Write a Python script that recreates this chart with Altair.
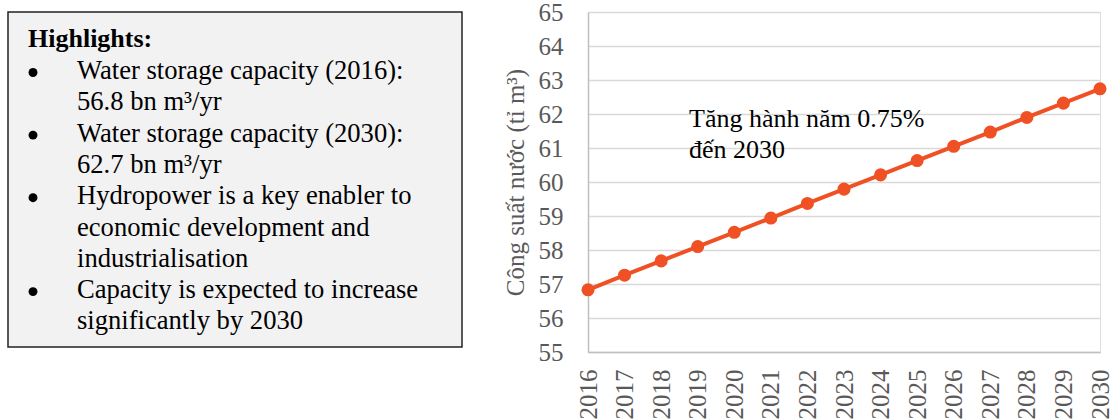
import altair as alt
import pandas as pd

# Projected water storage capacity, billion m3
years = [2016, 2017, 2018, 2019, 2020, 2021, 2022, 2023,
         2024, 2025, 2026, 2027, 2028, 2029, 2030]
capacity = [56.83, 57.26, 57.68, 58.10, 58.52, 58.94, 59.37, 59.79,
            60.21, 60.63, 61.05, 61.47, 61.90, 62.32, 62.74]
y_ticks = [55, 56, 57, 58, 59, 60, 61, 62, 63, 64, 65]

y_title = "Công suất nước (tỉ m³)"
note_lines = ["Tăng hành năm 0.75%", "đến 2030"]

box_heading = "Highlights:"
box_lines = [
    "Water storage capacity (2016):",
    "56.8 bn m³/yr",
    "Water storage capacity (2030):",
    "62.7 bn m³/yr",
    "Hydropower is a key enabler to",
    "economic development and",
    "industrialisation",
    "Capacity is expected to increase",
    "significantly by 2030",
]
# a bullet starts each item; continuation lines have none
bullet_rows = [True, False, True, False, True, False, False, True, False]

FONT = "Liberation Serif"
LINE_COLOR = "#ef5124"
LINE_H = 31.3
BODY_Y = 67

df = pd.DataFrame({"year": years, "capacity": capacity})

x_enc = alt.X(
    "year:Q",
    scale=alt.Scale(domain=[2016, 2030], nice=False, zero=False),
    axis=alt.Axis(values=years, format="d", labelAngle=-90, labelPadding=17,
                  labelOverlap=False, ticks=False, grid=False, title=None),
)
y_enc = alt.Y(
    "capacity:Q",
    scale=alt.Scale(domain=[55, 65], nice=False, zero=False),
    axis=alt.Axis(values=y_ticks, ticks=False, labelPadding=25,
                  labelOverlap=False, title=y_title, titlePadding=10),
)

base = alt.Chart(df).encode(x=x_enc, y=y_enc)
line = base.mark_line(color=LINE_COLOR, strokeWidth=4)
dots = base.mark_circle(color=LINE_COLOR, size=170, opacity=1)

note = alt.Chart(pd.DataFrame({"t": ["\n".join(note_lines)]})).mark_text(
    align="left", baseline="alphabetic", font=FONT, fontSize=26,
    color="black", lineBreak="\n", lineHeight=31,
).encode(x=alt.value(101), y=alt.value(115), text="t:N")

# Highlights panel to the left of the plot area
box = alt.Chart(pd.DataFrame({"k": [0]})).mark_rect(
    fill="#f2f2f2", stroke="#222222", strokeWidth=1.5,
).encode(x=alt.value(-580), x2=alt.value(-126), y=alt.value(0), y2=alt.value(335))

heading = alt.Chart(pd.DataFrame({"t": [box_heading]})).mark_text(
    align="left", baseline="alphabetic", font=FONT, fontSize=26,
    fontWeight="bold", color="black",
).encode(x=alt.value(-560), y=alt.value(35), text="t:N")

body = alt.Chart(pd.DataFrame({"t": ["\n".join(box_lines)]})).mark_text(
    align="left", baseline="alphabetic", font=FONT, fontSize=26.6,
    color="black", lineBreak="\n", lineHeight=LINE_H,
).encode(x=alt.value(-511), y=alt.value(BODY_Y), text="t:N")

bullet_layers = [
    alt.Chart(pd.DataFrame({"k": [0]})).mark_circle(
        color="black", size=80, opacity=1,
    ).encode(x=alt.value(-555), y=alt.value(BODY_Y - 6.5 + i * LINE_H))
    for i, b in enumerate(bullet_rows) if b
]

chart = alt.layer(box, heading, body, *bullet_layers, line, dots, note).properties(
    width=512,
    height=340,
    padding={"left": 588, "top": 12, "right": 13, "bottom": 67},
    autosize=alt.AutoSizeParams(type="none"),
).configure_view(stroke=None).configure(
    font=FONT, background="white"
).configure_axis(
    labelFont=FONT, labelFontSize=25, labelColor="#595959",
    labelOverlap=False,
    titleFont=FONT, titleFontSize=25, titleFontWeight="normal",
    titleColor="#595959",
    domainColor="#bfbfbf", domainWidth=1.5,
    gridColor="#d9d9d9", gridWidth=1.5,
)

chart.save("out.html", embed_options={"renderer": "svg", "actions": False})
